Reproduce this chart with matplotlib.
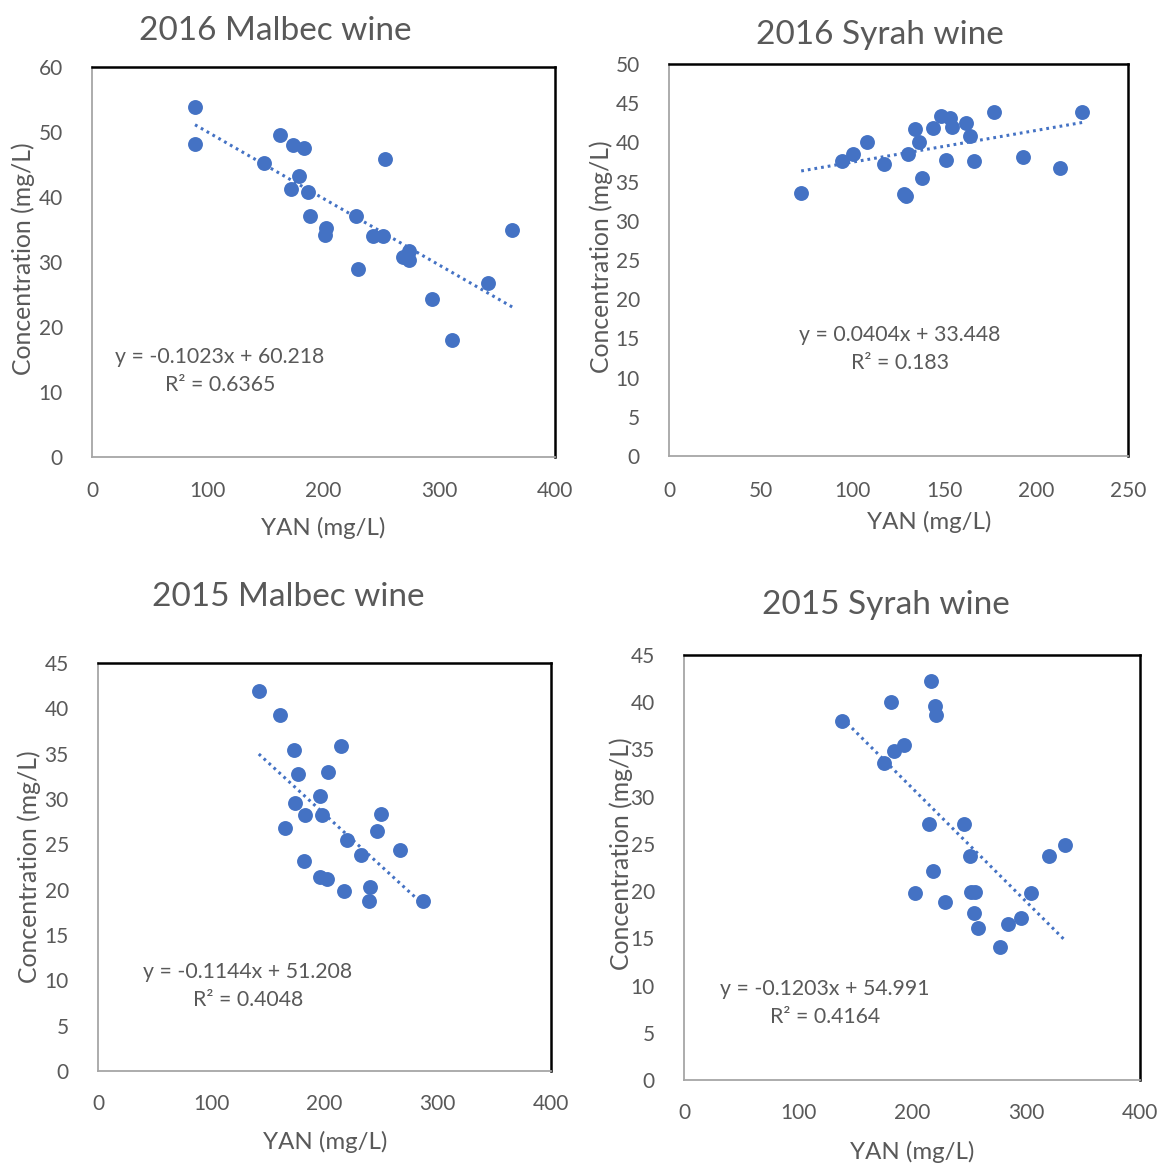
import numpy as np
import matplotlib
matplotlib.use("Agg")
import matplotlib.pyplot as plt

plt.rcParams['font.family'] = ['Lato', 'DejaVu Sans']

W, H = 1163, 1166
GREY = '#595959'
BLUE = '#4472C4'

# 2016 Malbec
m16_yan = [89, 89, 162, 174, 183, 149, 253, 179, 172, 187, 188, 228, 202, 201, 363,
           243, 251, 274, 269, 274, 230, 342, 294, 311]
m16_conc = [53.9, 48.2, 49.5, 48.0, 47.6, 45.2, 45.8, 43.2, 41.2, 40.7, 37.1, 37.1, 35.2, 34.1, 34.9,
            34.0, 34.0, 31.7, 30.7, 30.3, 28.9, 26.7, 24.3, 18.0]
# 2016 Syrah
s16_yan = [72, 94, 100, 108, 117, 130, 134, 136, 128, 129, 138, 144, 148, 153, 154, 151,
           162, 164, 166, 177, 193, 213, 225]
s16_conc = [33.6, 37.6, 38.5, 40.0, 37.2, 38.5, 41.7, 40.0, 33.4, 33.1, 35.4, 41.8, 43.4, 43.1, 42.0, 37.7,
            42.5, 40.8, 37.6, 43.9, 38.1, 36.7, 43.9]
# 2015 Malbec
m15_yan = [142, 161, 173, 215, 177, 203, 196, 174, 183, 198, 250, 165, 246, 220, 267, 232,
           182, 196, 202, 217, 240, 239, 287]
m15_conc = [41.9, 39.3, 35.4, 35.9, 32.8, 33.0, 30.3, 29.6, 28.2, 28.2, 28.3, 26.8, 26.5, 25.5, 24.4, 23.8,
            23.2, 21.4, 21.2, 19.9, 20.3, 18.8, 18.8]
# 2015 Syrah
s15_yan = [139, 182, 217, 220, 221, 193, 184, 175, 215, 246, 334, 320, 251, 218, 203, 252,
           255, 304, 229, 254, 296, 284, 258, 277]
s15_conc = [38.0, 40.0, 42.2, 39.6, 38.6, 35.5, 34.8, 33.6, 27.1, 27.1, 24.9, 23.7, 23.7, 22.1, 19.8, 19.9,
            19.9, 19.8, 18.8, 17.7, 17.2, 16.5, 16.1, 14.1]

# trendline coefficients as printed on the chart
slopes = [-0.1023, 0.0404, -0.1144, -0.1203]
intercepts = [60.218, 33.448, 51.208, 54.991]
eq_text = ['y = -0.1023x + 60.218\nR² = 0.6365',
           'y = 0.0404x + 33.448\nR² = 0.183',
           'y = -0.1144x + 51.208\nR² = 0.4048',
           'y = -0.1203x + 54.991\nR² = 0.4164']
titles = ['2016 Malbec wine', '2016 Syrah wine', '2015 Malbec wine', '2015 Syrah wine']


def fx(x):
    return x / W


def fy(y):
    return 1 - y / H


panels = [
    # data, box (l, t, r, b) px, xlim, xstep, ylim, ystep, title pos, eq pos, ylabel pos, xlabel pos, tick y
    (m16_yan, m16_conc, (92, 67, 555, 457), 400, 100, 60, 10, (275, 31), (220, 371), (23, 259), (323, 528), 489),
    (s16_yan, s16_conc, (669, 64, 1128, 456), 250, 50, 50, 5, (880, 35), (900, 349), (601, 257), (929, 522), 489),
    (m15_yan, m15_conc, (98, 663, 551, 1071), 400, 100, 45, 5, (288, 597), (248, 986), (29, 867), (325, 1142), 1102),
    (s15_yan, s15_conc, (684, 655, 1140, 1080), 400, 100, 45, 5, (886, 605), (825, 1003), (621, 854), (912, 1152), 1111),
]

fig = plt.figure(figsize=(W / 100, H / 100), dpi=100)

for i, (xs, ys, box, xmax, xstep, ymax, ystep, tpos, epos, ylpos, xlpos, ticky) in enumerate(panels):
    l, t, r, b = box
    ax = fig.add_axes([fx(l), fy(b), fx(r - l), (b - t) / H])
    ax.scatter(xs, ys, s=115, color=BLUE, zorder=3, linewidths=0)
    xx = np.array([min(xs), max(xs)])
    ax.plot(xx, slopes[i] * xx + intercepts[i], color=BLUE, lw=2.2,
            linestyle=(0, (0.9, 1.3)), zorder=2)
    ax.set_xlim(0, xmax)
    ax.set_ylim(0, ymax)
    ax.set_xticks(np.arange(0, xmax + 1, xstep))
    ax.set_yticks(np.arange(0, ymax + 1, ystep))
    ax.tick_params(length=0, labelsize=15, labelcolor=GREY)
    ax.tick_params(axis='y', pad=21)
    ax.tick_params(axis='x', pad=(ticky - b) * 0.72 - 5.5)
    for side in ['left', 'bottom']:
        ax.spines[side].set_color('#A6A6A6')
        ax.spines[side].set_linewidth(1.3)
    for side in ['top', 'right']:
        ax.spines[side].set_color('black')
        ax.spines[side].set_linewidth(1.8)

    fig.text(fx(tpos[0]), fy(tpos[1]), titles[i], ha='center', va='center',
             fontsize=24, color=GREY)
    fig.text(fx(epos[0]), fy(epos[1]), eq_text[i], ha='center', va='center',
             fontsize=15.3, color=GREY, linespacing=1.45)
    fig.text(fx(ylpos[0]), fy(ylpos[1]), 'Concentration (mg/L)', rotation=90,
             ha='center', va='center', fontsize=17.8, color=GREY)
    fig.text(fx(xlpos[0]), fy(xlpos[1]), 'YAN (mg/L)', ha='center', va='center',
             fontsize=17.3, color=GREY)

fig.savefig('out.png', dpi=100)
